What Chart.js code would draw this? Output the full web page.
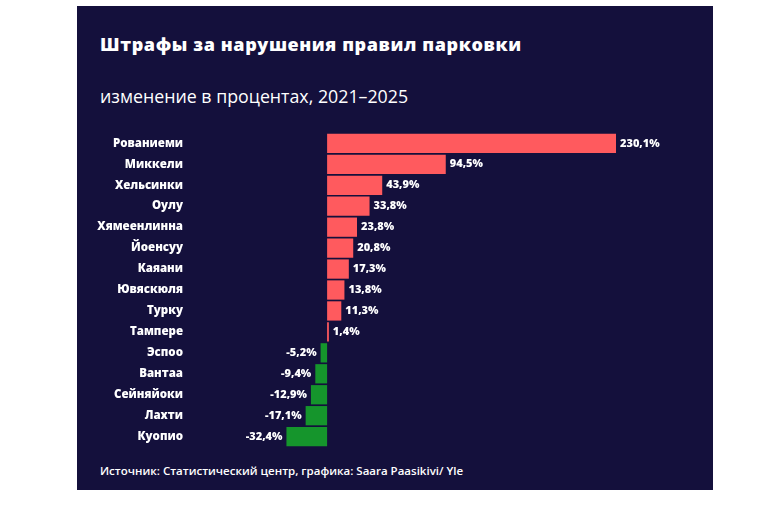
<!DOCTYPE html>
<html>
<head>
<meta charset="utf-8">
<script src="https://cdn.jsdelivr.net/npm/chart.js@4"></script>
<style>
  html, body { margin: 0; padding: 0; background: #ffffff; }
  body { width: 761px; height: 508px; position: relative; overflow: hidden; }
  #panel {
    position: absolute; left: 77px; top: 6px; width: 636px; height: 484px;
    background: #14103c; font-family: "Open Sans", sans-serif; color: #ffffff;
  }
  #title { position: absolute; left: 23px; top: 26px; font-size: 18px; font-weight: 800; letter-spacing: 0.6px; white-space: nowrap; }
  #subtitle { position: absolute; left: 23px; top: 78px; font-size: 17.8px; font-weight: 400; white-space: nowrap; }
  #source { position: absolute; left: 23px; top: 457px; font-size: 11.5px; font-weight: 600; white-space: nowrap; }
  #wrap { position: absolute; left: 0; top: 114px; width: 636px; height: 340px; }
</style>
</head>
<body>
<div id="panel">
  <div id="title">Штрафы за нарушения правил парковки</div>
  <div id="subtitle">изменение в процентах, 2021–2025</div>
  <div id="wrap"><canvas id="fineChart"></canvas></div>
  <div id="source">Источник: Статистический центр, графика: Saara Paasikivi/ Yle</div>
</div>
<script>
const cities = ['Рованиеми', 'Миккели', 'Хельсинки', 'Оулу', 'Хямеенлинна', 'Йоенсуу', 'Каяани',
  'Ювяскюля', 'Турку', 'Тампере', 'Эспоо', 'Вантаа', 'Сейняйоки', 'Лахти', 'Куопио'];
const changes = [230.1, 94.5, 43.9, 33.8, 23.8, 20.8, 17.3, 13.8, 11.3, 1.4, -5.2, -9.4, -12.9, -17.1, -32.4];

const RED = '#ff5a5e';
const GREEN = '#15952c';

function formatPct(v) {
    return v.toFixed(1).replace('.', ',') + '%';
}

// подписи значений у концов столбцов
const valueLabels = {
    id: 'valueLabels',
    afterDatasetsDraw(chart) {
        const ctx = chart.ctx;
        const meta = chart.getDatasetMeta(0);
        ctx.save();
        ctx.font = '800 11px "Open Sans", sans-serif';
        ctx.fillStyle = '#ffffff';
        ctx.textBaseline = 'middle';
        meta.data.forEach(function(bar, i) {
            const v = changes[i];
            if (v >= 0) {
                ctx.textAlign = 'left';
                ctx.fillText(formatPct(v), bar.x + 4, bar.y);
            } else {
                ctx.textAlign = 'right';
                ctx.fillText(formatPct(v), bar.x - 4, bar.y);
            }
        });
        ctx.restore();
    }
};

const ctx = document.getElementById('fineChart').getContext('2d');
new Chart(ctx, {
    type: 'bar',
    data: {
        labels: cities,
        datasets: [{
            data: changes,
            backgroundColor: changes.map(v => v >= 0 ? RED : GREEN),
            borderWidth: 0,
            barPercentage: 0.92,
            categoryPercentage: 1
        }]
    },
    options: {
        indexAxis: 'y',
        responsive: true,
        maintainAspectRatio: false,
        animation: false,
        layout: { padding: { top: 12, bottom: 11, left: 0, right: 97 } },
        scales: {
            x: {
                display: false,
                min: -110,
                max: 230.1
            },
            y: {
                grid: { display: false, drawTicks: false },
                border: { display: false },
                afterFit: function(scale) { scale.width = 112; },
                ticks: {
                    color: '#ffffff',
                    padding: 6,
                    font: { family: '"Open Sans", sans-serif', size: 11.5, weight: '800' }
                }
            }
        },
        plugins: {
            legend: { display: false },
            tooltip: { enabled: false }
        }
    },
    plugins: [valueLabels]
});
</script>
</body>
</html>
